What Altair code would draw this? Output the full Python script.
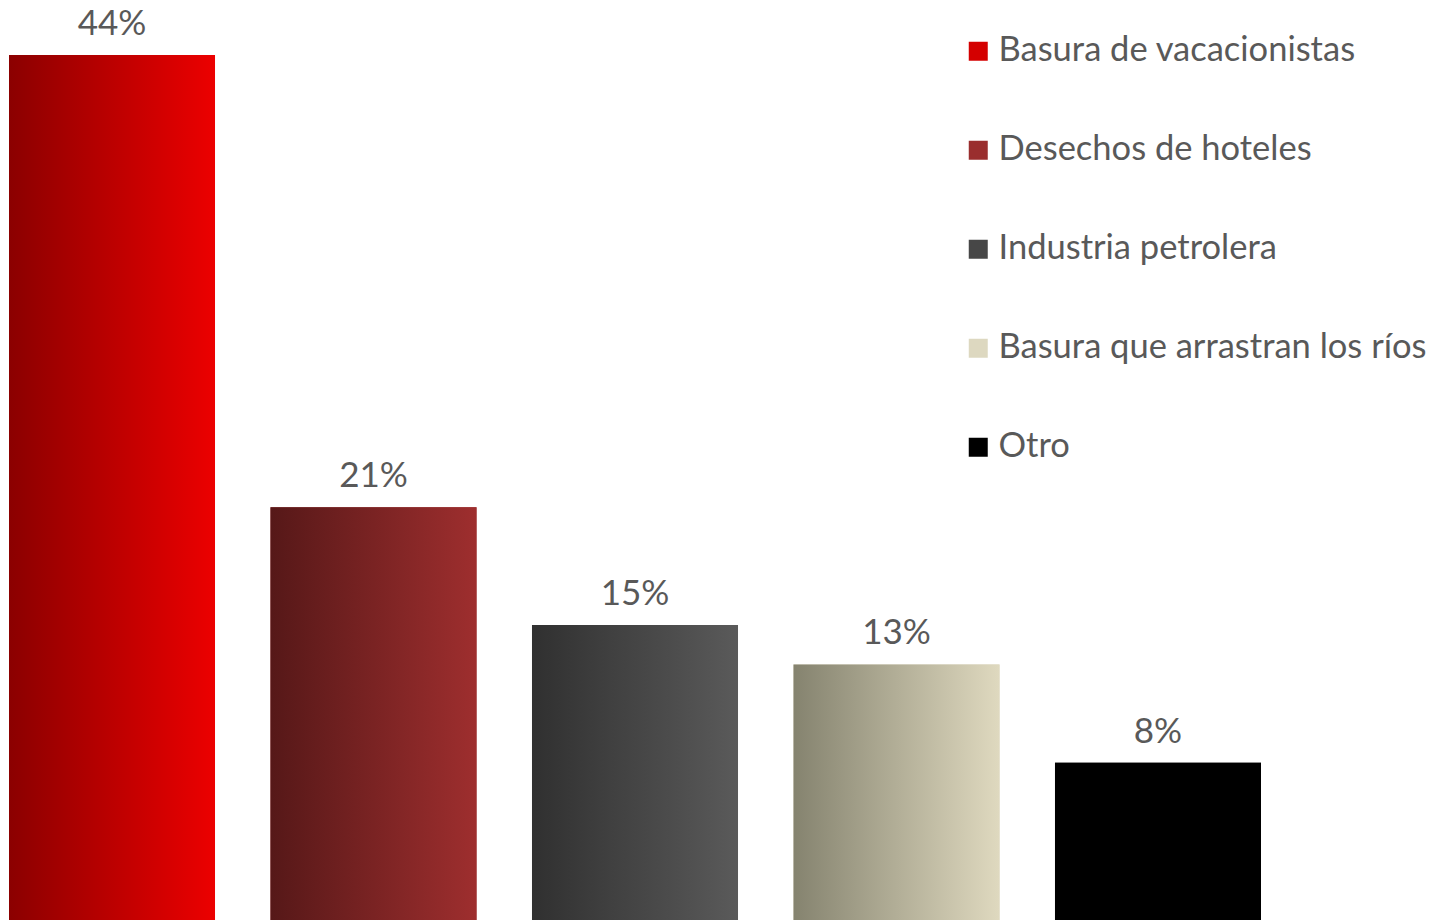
import altair as alt
import pandas as pd

categories = ["Basura de vacacionistas", "Desechos de hoteles", "Industria petrolera",
              "Basura que arrastran los ríos", "Otro"]
values = [44, 21, 15, 13, 8]
labels = ["44%", "21%", "15%", "13%", "8%"]
legend_colors = ["#D40000", "#9A2E2E", "#474747", "#DDD8C0", "#000000"]
gradient_stops = [
    ("#8B0000", "#EC0000"),
    ("#561818", "#9E2E2E"),
    ("#303030", "#5A5A5A"),
    ("#85836F", "#DFD9BF"),
    ("#000000", "#000000"),
]

df = pd.DataFrame({"cat": categories, "val": values, "lab": labels})

FONT = "Lato"
TXT = "#595959"

x_enc = alt.X("cat:N", sort=categories, axis=None,
              scale=alt.Scale(paddingInner=0.2122, paddingOuter=0, range=[1, 1253]))
y_scale = alt.Scale(domain=[0, 46.39], zero=False)
y_enc = alt.Y("val:Q", axis=None, scale=y_scale)
y2_enc = alt.Y2(datum=0)

base = alt.Chart(df).mark_bar().encode(
    x=x_enc, y=y_enc, y2=y2_enc,
    color=alt.Color("cat:N", sort=categories,
                    scale=alt.Scale(domain=categories, range=legend_colors),
                    legend=alt.Legend(
                        title=None, orient="none", legendX=953, legendY=26,
                        symbolType="square", symbolSize=361, symbolStrokeWidth=0,
                        symbolOpacity=1,
                        labelFont=FONT, labelFontSize=34.5, labelColor=TXT,
                        labelOffset=3, rowPadding=64, padding=0,
                        labelLimit=600)),
)

layers = [base]
for cat, (c1, c2) in zip(categories, gradient_stops):
    layers.append(
        alt.Chart(df).transform_filter(alt.datum.cat == cat).mark_bar(
            color=alt.Gradient(gradient="linear",
                               stops=[alt.GradientStop(color=c1, offset=0),
                                      alt.GradientStop(color=c2, offset=1)],
                               x1=0, x2=1, y1=0, y2=0)
        ).encode(x=x_enc, y=y_enc, y2=y2_enc)
    )

text = alt.Chart(df).mark_text(font=FONT, fontSize=35, color=TXT,
                               baseline="alphabetic", dy=-20).encode(
    x=x_enc, y=y_enc, text="lab:N")
layers.append(text)

chart = alt.layer(*layers).properties(
    width=1425, height=912, padding=0,
    autosize=alt.AutoSizeParams(type="none"),
).configure_view(stroke=None)

chart.save("out.html", embed_options={"renderer": "svg", "actions": False})
